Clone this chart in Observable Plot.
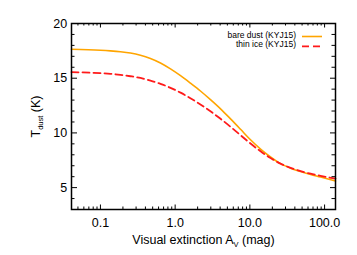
<!DOCTYPE html>
<html><head><meta charset="utf-8">
<script src="https://cdn.jsdelivr.net/npm/d3@7"></script>
<script src="https://cdn.jsdelivr.net/npm/@observablehq/plot@0.6"></script>
<style>html,body{margin:0;padding:0;background:#fff;overflow:hidden}</style>
</head><body><div id="chart"></div>
<script>
// ---- data ----
const av = [0.041, 0.1, 0.136, 0.185, 0.252, 0.343, 0.467, 0.636, 0.866, 1.18, 1.60, 2.18, 2.97, 4.05, 5.51, 7.50, 10.2, 13.9, 18.9, 25.7, 35.0, 47.7, 64.9, 88.4, 140];
const bareDust = [17.65, 17.56, 17.50, 17.42, 17.30, 17.10, 16.80, 16.39, 15.85, 15.23, 14.55, 13.83, 13.04, 12.20, 11.28, 10.33, 9.37, 8.52, 7.80, 7.19, 6.78, 6.47, 6.21, 5.97, 5.60];
const thinIce = [15.56, 15.46, 15.40, 15.31, 15.18, 15.02, 14.78, 14.49, 14.12, 13.68, 13.17, 12.60, 11.97, 11.29, 10.56, 9.79, 9.03, 8.32, 7.70, 7.19, 6.81, 6.51, 6.27, 6.08, 5.82];
const seriesNames = ["bare dust (KYJ15)", "thin ice (KYJ15)"];
const xMajor = [0.1, 1, 10, 100];
const xTickLabels = ["0.1", "1.0", "10.0", "100.0"];
const xMinor = [0.05, 0.06, 0.07, 0.08, 0.09, 0.2, 0.3, 0.4, 0.5, 0.6, 0.7, 0.8, 0.9, 2, 3, 4, 5, 6, 7, 8, 9, 20, 30, 40, 50, 60, 70, 80, 90];
const yMajor = [5, 10, 15, 20];
const yMinor = [4, 6, 7, 8, 9, 11, 12, 13, 14, 16, 17, 18, 19];
const xDomain = [0.041, 140];
const yDomain = [3, 20];
const xLabel = ["Visual extinction A", "V", " (mag)"];
const yLabel = ["T", "dust", " (K)"];

// ---- layout / style ----
const W = 357, H = 255, mL = 71, mR = 22, mT = 23, mB = 46;
const fw = W - mL - mR, fh = H - mT - mB;
const colors = ["#ffa500", "#ff1a1a"];
const FONT = "'Liberation Sans', Arial, Helvetica, sans-serif";

const rows = (ys, name) => av.map((a, i) => ({a, t: ys[i], s: name}));

const plot = Plot.plot({
  width: W, height: H,
  marginLeft: mL, marginRight: mR, marginTop: mT, marginBottom: mB,
  style: {fontFamily: FONT, fontSize: "12.5px", background: "white", color: "black"},
  x: {type: "log", domain: xDomain, axis: null},
  y: {domain: yDomain, axis: null},
  marks: [
    Plot.line(rows(bareDust, seriesNames[0]), {x: "a", y: "t", stroke: colors[0], strokeWidth: 1.6, curve: "monotone-x"}),
    Plot.line(rows(thinIce, seriesNames[1]), {x: "a", y: "t", stroke: colors[1], strokeWidth: 1.8, strokeDasharray: "7,4", curve: "monotone-x"}),
    Plot.axisX(xMajor, {anchor: "bottom", tickSize: 0, tickPadding: 9, tickFormat: d => xTickLabels[xMajor.indexOf(d)], label: null, fontSize: 12.5}),
    Plot.axisY(yMajor, {anchor: "left", tickSize: 0, tickPadding: 4.3, label: null, fontSize: 12.5}),
    // inward ticks: bottom / top
    Plot.tickX(xMajor, {x: d => d, insetTop: fh - 4.5, stroke: "black", strokeWidth: 1}),
    Plot.tickX(xMinor, {x: d => d, insetTop: fh - 2.5, stroke: "black", strokeWidth: 1}),
    Plot.tickX(xMajor, {x: d => d, insetBottom: fh - 4.5, stroke: "black", strokeWidth: 1}),
    Plot.tickX(xMinor, {x: d => d, insetBottom: fh - 2.5, stroke: "black", strokeWidth: 1}),
    // inward ticks: left / right
    Plot.tickY(yMajor, {y: d => d, insetRight: fw - 6, stroke: "black", strokeWidth: 1}),
    Plot.tickY(yMinor, {y: d => d, insetRight: fw - 3.5, stroke: "black", strokeWidth: 1}),
    Plot.tickY(yMajor, {y: d => d, insetLeft: fw - 5, stroke: "black", strokeWidth: 1}),
    Plot.tickY(yMinor, {y: d => d, insetLeft: fw - 3.5, stroke: "black", strokeWidth: 1}),
    Plot.frame({stroke: "black", strokeWidth: 1.5}),
    // axis titles
    Plot.text([yLabel.join("")], {frameAnchor: "left", rotate: -90, dx: -35.5, textAnchor: "middle", lineAnchor: "middle", fontSize: 12.5}),
    Plot.text([xLabel.join("")], {frameAnchor: "bottom", dy: 25.4, textAnchor: "middle", lineAnchor: "top", fontSize: 12.5})
  ]
});

// subscripts
const NS = "http://www.w3.org/2000/svg";
function sub(svg, parts) {
  const full = parts.join("");
  svg.querySelectorAll("text").forEach(t => {
    if (t.textContent !== full) return;
    t.textContent = "";
    parts.forEach((p, i) => {
      const ts = document.createElementNS(NS, "tspan");
      ts.textContent = p;
      if (i === 1) { ts.setAttribute("font-size", "7.5"); ts.setAttribute("dy", "3"); }
      if (i === 2) { ts.setAttribute("dy", "-3"); }
      t.appendChild(ts);
    });
  });
}
sub(plot, yLabel);
sub(plot, xLabel);

// legend
const lg = d3.select(plot).append("g").attr("font-family", FONT).attr("font-size", 8.5);
const legendY = [37.5, 47.3];
seriesNames.forEach((name, i) => {
  lg.append("text").attr("x", 296).attr("y", legendY[i]).attr("text-anchor", "end").attr("fill", "black").text(name);
  const ln = lg.append("line").attr("x1", 302).attr("x2", 322).attr("y1", legendY[i] - 1).attr("y2", legendY[i] - 1)
    .attr("stroke", colors[i]).attr("stroke-width", i ? 1.8 : 1.6);
  if (i) ln.attr("stroke-dasharray", "7,4");
});

document.getElementById("chart").appendChild(plot);
</script>
</body></html>
